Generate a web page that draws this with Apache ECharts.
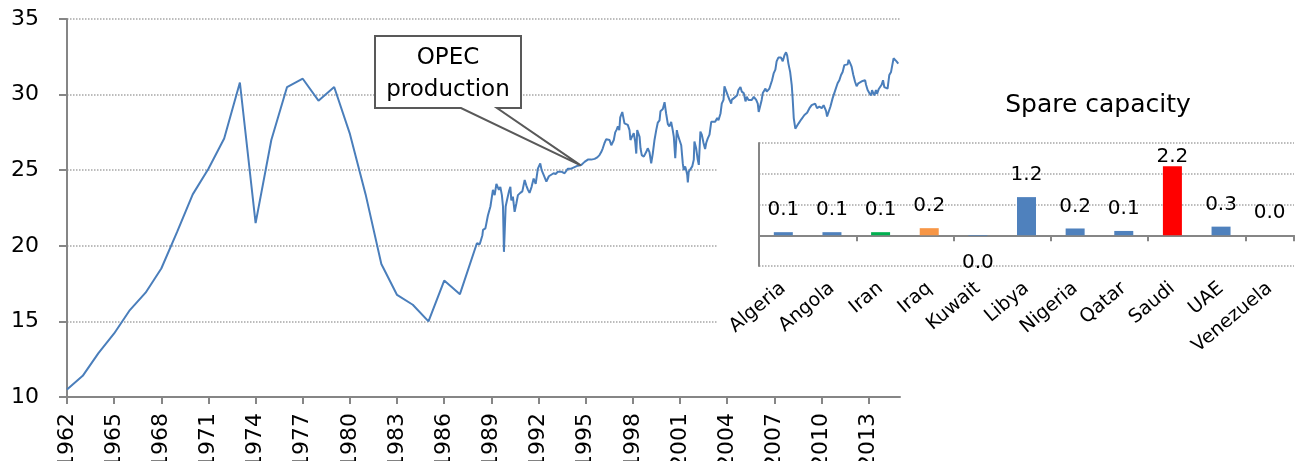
<!DOCTYPE html>
<html>
<head>
<meta charset="utf-8">
<title>OPEC production / spare capacity</title>
<script src="https://cdn.jsdelivr.net/npm/echarts@6/dist/echarts.min.js"></script>
<style>
html, body { margin: 0; padding: 0; background: #fff; }
#chart { width: 1299px; height: 461px; }
</style>
</head>
<body>
<div id="chart"></div>
<script>
// OPEC production, annual points
var annualYears = [1962, 1963, 1964, 1965, 1966, 1967, 1968, 1969, 1970, 1971, 1972, 1973, 1974,
	1975, 1976, 1977, 1978, 1979, 1980, 1981, 1982, 1983, 1984, 1985, 1986, 1987];
var annualOutput = [10.5, 11.4, 12.9, 14.2, 15.75, 16.9, 18.5, 20.9, 23.4, 25.1, 27.1, 30.8, 21.5,
	27.0, 30.5, 31.05, 29.6, 30.5, 27.4, 23.4, 18.8, 16.75, 16.1, 15.0, 17.7, 16.8];

// OPEC production, monthly points from 1988 (decimal year)
var monthlyYears = [
	1988.08, 1988.26, 1988.43, 1988.47, 1988.62, 1988.78, 1988.94,
	1989.10, 1989.21, 1989.32, 1989.42, 1989.48, 1989.57, 1989.67, 1989.74, 1989.80, 1989.91, 1989.99,
	1990.12, 1990.21, 1990.27, 1990.37, 1990.48, 1990.59, 1990.69, 1990.84, 1990.97,
	1991.12, 1991.22, 1991.33, 1991.43, 1991.56, 1991.69, 1991.82, 1991.96,
	1992.11, 1992.20, 1992.32, 1992.50, 1992.66, 1992.81, 1992.96,
	1993.09, 1993.23, 1993.34, 1993.45, 1993.66, 1993.77, 1993.87, 1993.98,
	1994.08, 1994.29, 1994.50, 1994.72, 1994.93,
	1995.14, 1995.36, 1995.57, 1995.74, 1995.88, 1995.99,
	1996.09, 1996.20, 1996.31, 1996.41, 1996.52, 1996.63, 1996.73, 1996.79, 1996.88, 1996.98,
	1997.05, 1997.14, 1997.20, 1997.33, 1997.41, 1997.47, 1997.58, 1997.68, 1997.79, 1997.85, 1997.94,
	1998.06, 1998.15, 1998.22, 1998.28, 1998.36, 1998.43, 1998.49, 1998.57, 1998.70, 1998.85, 1998.95,
	1999.06, 1999.17, 1999.27, 1999.38, 1999.49, 1999.59, 1999.70, 1999.76, 1999.91,
	2000.02, 2000.12, 2000.23, 2000.33, 2000.44, 2000.54, 2000.61, 2000.70, 2000.80, 2000.86, 2000.97,
	2001.08, 2001.18, 2001.24, 2001.33, 2001.40, 2001.46, 2001.50, 2001.56, 2001.67, 2001.78, 2001.88, 2001.92,
	2002.03, 2002.13, 2002.20, 2002.30, 2002.39, 2002.50, 2002.60, 2002.67, 2002.77, 2002.88, 2002.99,
	2003.09, 2003.24, 2003.37, 2003.45, 2003.58, 2003.66, 2003.77, 2003.83, 2003.94,
	2004.04, 2004.15, 2004.26, 2004.29, 2004.47, 2004.64, 2004.72, 2004.85, 2004.93,
	2005.06, 2005.17, 2005.25, 2005.36, 2005.47, 2005.57, 2005.70, 2005.85, 2005.95,
	2006.01, 2006.12, 2006.20, 2006.27, 2006.37, 2006.44, 2006.52, 2006.58, 2006.69, 2006.80, 2006.86, 2006.96,
	2007.07, 2007.15, 2007.26, 2007.37, 2007.43, 2007.54, 2007.65, 2007.75, 2007.82, 2007.90,
	2008.01, 2008.11, 2008.17, 2008.24, 2008.34, 2008.45, 2008.55, 2008.71, 2008.92,
	2009.09, 2009.24, 2009.38, 2009.49, 2009.60, 2009.72, 2009.87,
	2010.02, 2010.14, 2010.23, 2010.30, 2010.36, 2010.46, 2010.57, 2010.71, 2010.82, 2010.93,
	2011.03, 2011.14, 2011.25, 2011.35, 2011.46, 2011.57, 2011.67, 2011.73, 2011.82, 2011.92,
	2012.03, 2012.14, 2012.24, 2012.35, 2012.46, 2012.62, 2012.78, 2012.84, 2012.94,
	2013.05, 2013.16, 2013.22, 2013.30, 2013.37, 2013.47, 2013.54, 2013.64, 2013.75, 2013.83, 2013.92,
	2014.00, 2014.11, 2014.21, 2014.32, 2014.43, 2014.53, 2014.59, 2014.68, 2014.78, 2014.89
];
var monthlyOutput = [
	20.17, 20.1, 20.7, 21.05, 21.15, 22.0, 22.6,
	23.7, 23.35, 24.1, 24.0, 23.7, 23.9, 23.35, 22.6, 19.6, 22.6, 23.0,
	23.6, 23.9, 23.0, 23.25, 22.25, 22.8, 23.35, 23.5, 23.6,
	24.35, 24.0, 23.7, 23.5, 23.9, 24.45, 24.1, 25.1,
	25.45, 25.0, 24.7, 24.25, 24.6, 24.7, 24.8,
	24.75, 24.9, 24.9, 24.9, 24.8, 24.7, 25.1, 25.2,
	25.1, 25.2, 25.3, 25.35, 25.55,
	25.7, 25.7, 25.75, 25.85, 26.0, 26.2,
	26.45, 26.8, 27.05, 27.1, 27.0, 26.65, 26.55, 27.0, 27.5, 27.7,
	27.9, 27.65, 28.5, 28.85, 28.9, 28.1, 28.15, 28.0, 27.65, 27.0, 27.2,
	27.45, 26.9, 26.1, 27.65, 27.75, 27.2, 26.45, 26.0, 25.9, 26.2, 26.45,
	26.2, 25.45, 26.1, 27.0, 27.65, 28.15, 28.3, 28.9, 29.05,
	29.5, 28.75, 28.05, 27.9, 28.2, 27.65, 27.2, 25.8, 27.65, 27.35, 27.0,
	26.65, 25.45, 25.0, 25.25, 25.0, 24.7, 24.2, 24.9, 24.9, 25.25, 25.7, 26.9,
	26.45, 25.7, 25.35, 27.55, 27.35, 26.8, 26.4, 26.8, 27.1, 27.35, 28.2,
	28.3, 28.2, 28.45, 28.3, 28.75, 29.4, 29.65, 30.55, 30.6,
	29.95, 29.65, 29.4, 29.65, 29.8, 29.95, 30.3, 30.5, 30.2,
	30.1, 29.55, 29.85, 29.65, 29.7, 29.65, 29.85, 29.65, 29.4,
	28.85, 28.8, 29.65, 30.1, 30.2, 30.4, 30.2, 30.1, 30.4, 30.4, 30.95, 31.4,
	31.65, 32.2, 32.45, 32.4, 32.45, 32.2, 32.6, 32.8, 32.6, 32.05,
	31.5, 30.65, 29.75, 28.45, 27.75, 27.7, 28.1, 28.35, 28.65,
	28.8, 29.1, 29.3, 29.2, 29.4, 29.1, 29.2,
	29.1, 29.3, 29.4, 28.9, 28.55, 28.65, 29.2, 29.75, 30.1, 30.1,
	30.75, 30.95, 31.3, 31.5, 31.95, 32.0, 32.0, 32.3, 32.1, 31.85,
	31.3, 30.85, 30.55, 30.75, 30.85, 30.9, 30.95, 30.65, 30.3,
	30.1, 29.95, 30.3, 30.1, 29.95, 30.3, 30.05, 30.35, 30.25, 30.65, 30.95,
	30.5, 30.4, 30.4, 31.3, 31.5, 31.45, 32.4, 32.35, 32.2, 32.05
];

var yearTicks = [1962, 1965, 1968, 1971, 1974, 1977, 1980, 1983, 1986, 1989, 1992, 1995,
	1998, 2001, 2004, 2007, 2010, 2013];

// spare capacity (inset)
var countries = ['Algeria', 'Angola', 'Iran', 'Iraq', 'Kuwait', 'Libya', 'Nigeria', 'Qatar', 'Saudi', 'UAE', 'Venezuela'];
var spareCapacity = [0.1, 0.1, 0.1, 0.23, -0.02, 1.24, 0.22, 0.14, 2.24, 0.28, 0.0];
var barColors = ['#4F81BD', '#4F81BD', '#00B050', '#F79646', '#4F81BD', '#4F81BD', '#4F81BD', '#4F81BD', '#FF0000', '#4F81BD', '#4F81BD'];

var FONT = 'DejaVu Sans';
var AXIS_GREY = '#868686';
var GRID_GREY = '#a6a6a6';

var lineData = [];
for (var i = 0; i < annualYears.length; i++) {
	lineData.push([annualYears[i], annualOutput[i]]);
}
for (var j = 0; j < monthlyYears.length; j++) {
	lineData.push([monthlyYears[j], monthlyOutput[j]]);
}

var barData = [];
for (var k = 0; k < countries.length; k++) {
	var item = { value: spareCapacity[k], itemStyle: { color: barColors[k] } };
	if (spareCapacity[k] < 0) {
		item.label = { position: 'bottom', distance: 17 };
	} else if (countries[k] == 'Saudi') {
		item.label = { distance: 0 };
	}
	barData.push(item);
}

var myChart = echarts.init(document.getElementById('chart'));
var option = {
	animation: false,
	textStyle: { fontFamily: FONT },
	grid: [
		{ left: 67, top: 19, width: 833, height: 378, outerBoundsMode: 'none', containLabel: false },
		{ left: 759, top: 143, width: 535, height: 123, outerBoundsMode: 'none', containLabel: false }
	],
	xAxis: [
		{
			type: 'value', gridIndex: 0, min: 1962, max: 2015, interval: 3,
			axisLine: { lineStyle: { color: AXIS_GREY, width: 2 } },
			axisTick: { length: 7, lineStyle: { color: AXIS_GREY, width: 2 }, customValues: yearTicks },
			axisLabel: {
				rotate: 90, margin: 16, fontSize: 22, color: '#000', fontFamily: FONT,
				customValues: yearTicks,
				formatter: function (v) { return String(v); }
			},
			splitLine: { show: false }
		},
		{
			type: 'category', gridIndex: 1, data: countries, position: 'bottom', z: 5,
			axisLine: { onZero: true, lineStyle: { color: AXIS_GREY, width: 2 } },
			axisTick: { show: true, length: 6, lineStyle: { color: AXIS_GREY, width: 2 } },
			axisLabel: { show: false },
			splitLine: { show: false }
		},
		{
			type: 'category', gridIndex: 1, data: countries, position: 'bottom', z: 5,
			axisLine: { show: false, onZero: false },
			axisTick: { show: false },
			axisLabel: { interval: 0, rotate: 40, margin: 20, fontSize: 19, color: '#000', fontFamily: FONT },
			splitLine: { show: false }
		}
	],
	yAxis: [
		{
			type: 'value', gridIndex: 0, min: 10, max: 35, interval: 5,
			axisLine: { show: true, lineStyle: { color: AXIS_GREY, width: 2 } },
			axisTick: { show: true, length: 8, lineStyle: { color: AXIS_GREY, width: 2 } },
			axisLabel: { margin: 28, fontSize: 22, color: '#000', fontFamily: FONT },
			splitLine: { lineStyle: { color: GRID_GREY, width: 1.5, type: 'dotted' } }
		},
		{
			type: 'value', gridIndex: 1, min: -1, max: 3, interval: 1, z: 5,
			axisLine: { show: true, lineStyle: { color: AXIS_GREY, width: 2 } },
			axisTick: { show: false },
			axisLabel: { show: false },
			splitLine: { lineStyle: { color: GRID_GREY, width: 1.5, type: 'dotted' } }
		}
	],
	series: [
		{
			name: 'OPEC production', type: 'line', xAxisIndex: 0, yAxisIndex: 0,
			data: lineData, showSymbol: false, symbol: 'none',
			lineStyle: { color: '#4A7EBB', width: 2 }, z: 2
		},
		{
			name: 'Spare capacity', type: 'bar', xAxisIndex: 1, yAxisIndex: 1,
			data: barData, barWidth: 19, z: 6,
			label: {
				show: true, position: 'top', distance: 12, fontSize: 20, color: '#000', fontFamily: FONT,
				formatter: function (p) { return (Math.round(p.value * 10) / 10).toFixed(1); }
			}
		}
	],
	graphic: [
		// white chart area of the inset, hides the main gridlines under it
		{ type: 'rect', z: 1, shape: { x: 717, y: 133, width: 582, height: 245 }, style: { fill: '#fff' } },
		{
			type: 'text', z: 10, x: 1098, y: 105,
			style: { text: 'Spare capacity', fontSize: 25, fontFamily: FONT, fill: '#000', align: 'center', verticalAlign: 'middle' }
		},
		// callout
		{
			type: 'polygon', z: 10,
			shape: { points: [[375, 36], [521, 36], [521, 108], [497, 108], [580.7, 165.3], [461, 108], [375, 108]] },
			style: { fill: '#fff', stroke: '#595959', lineWidth: 2 }
		},
		{
			type: 'text', z: 11, x: 448, y: 74,
			style: { text: 'OPEC\nproduction', fontSize: 23, lineHeight: 32, fontFamily: FONT, fill: '#000', align: 'center', verticalAlign: 'middle' }
		}
	]
};
myChart.setOption(option);
</script>
</body>
</html>
